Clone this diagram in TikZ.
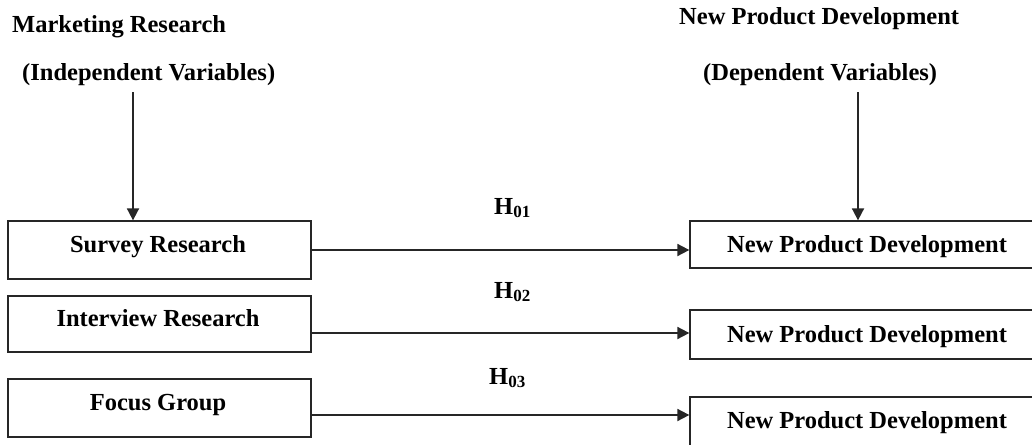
\documentclass[tikz,border=0pt]{standalone}
\usepackage{fontspec}
\setmainfont{Liberation Serif}
\usetikzlibrary{arrows.meta}
\tikzset{
  box/.style={draw=black!85, line width=1.3pt, inner sep=0pt},
  lbl/.style={font=\fontsize{24.5}{28}\selectfont\bfseries, inner sep=0pt},
  link/.style={draw=black!85, line width=1.8pt, -{Triangle[length=12pt,width=12pt]}},
}
\newcommand{\hyp}[1]{H{\raisebox{-0.3ex}{\fontsize{17}{17}\selectfont #1}}}
\begin{document}
\begin{tikzpicture}[x=1pt,y=-1pt]
  \useasboundingbox (0,0) rectangle (1032,444);
  \begin{scope}
  \clip (0,0) rectangle (1032,444);

  % column headings
  \node[lbl, anchor=base west] (mr) at (12,33) {Marketing Research};
  \node[lbl, anchor=base west] (iv) at (22,80) {(Independent Variables)};
  \node[lbl, anchor=base west] (npd) at (679,25) {New Product Development};
  \node[lbl, anchor=base west] (dv) at (703,80) {(Dependent Variables)};

  % independent variable boxes
  \node[box, minimum width=303pt, minimum height=58pt] (sr) at (159.5,250) {};
  \node[box, minimum width=303pt, minimum height=56pt] (ir) at (159.5,324) {};
  \node[box, minimum width=303pt, minimum height=58pt] (fg) at (159.5,408) {};
  \node[lbl, anchor=base] (srt) at (158,252) {Survey Research};
  \node[lbl, anchor=base] (irt) at (158,326) {Interview Research};
  \node[lbl, anchor=base] (fgt) at (158,410) {Focus Group};

  % dependent variable boxes
  \node[box, minimum width=350pt, minimum height=47pt] (d1) at (865,244.5) {};
  \node[box, minimum width=350pt, minimum height=49pt] (d2) at (865,334.5) {};
  \node[box, minimum width=350pt, minimum height=50pt] (d3) at (865,422) {};
  \node[lbl, anchor=base] (d1t) at (867,252) {New Product Development};
  \node[lbl, anchor=base] (d2t) at (867,342) {New Product Development};
  \node[lbl, anchor=base] (d3t) at (867,428) {New Product Development};

  % hypotheses
  \node[lbl, anchor=base west] (h1) at (494,214) {\hyp{01}};
  \node[lbl, anchor=base west] (h2) at (494,298) {\hyp{02}};
  \node[lbl, anchor=base west] (h3) at (489,384) {\hyp{03}};

  % vertical feeds from the headings
  \coordinate (vl) at (133,92);
  \coordinate (vr) at (858,92);
  \draw[link] (vl) -- (vl |- sr.north);
  \draw[link] (vr) -- (vr |- d1.north);

  % hypothesised links
  \draw[link] (sr.east) -- (sr.east -| d1.west);
  \coordinate (y2) at (0,333);
  \draw[link] (y2 -| ir.east) -- (y2 -| d2.west);
  \coordinate (y3) at (0,415);
  \draw[link] (y3 -| fg.east) -- (y3 -| d3.west);
  \end{scope}
\end{tikzpicture}
\end{document}
